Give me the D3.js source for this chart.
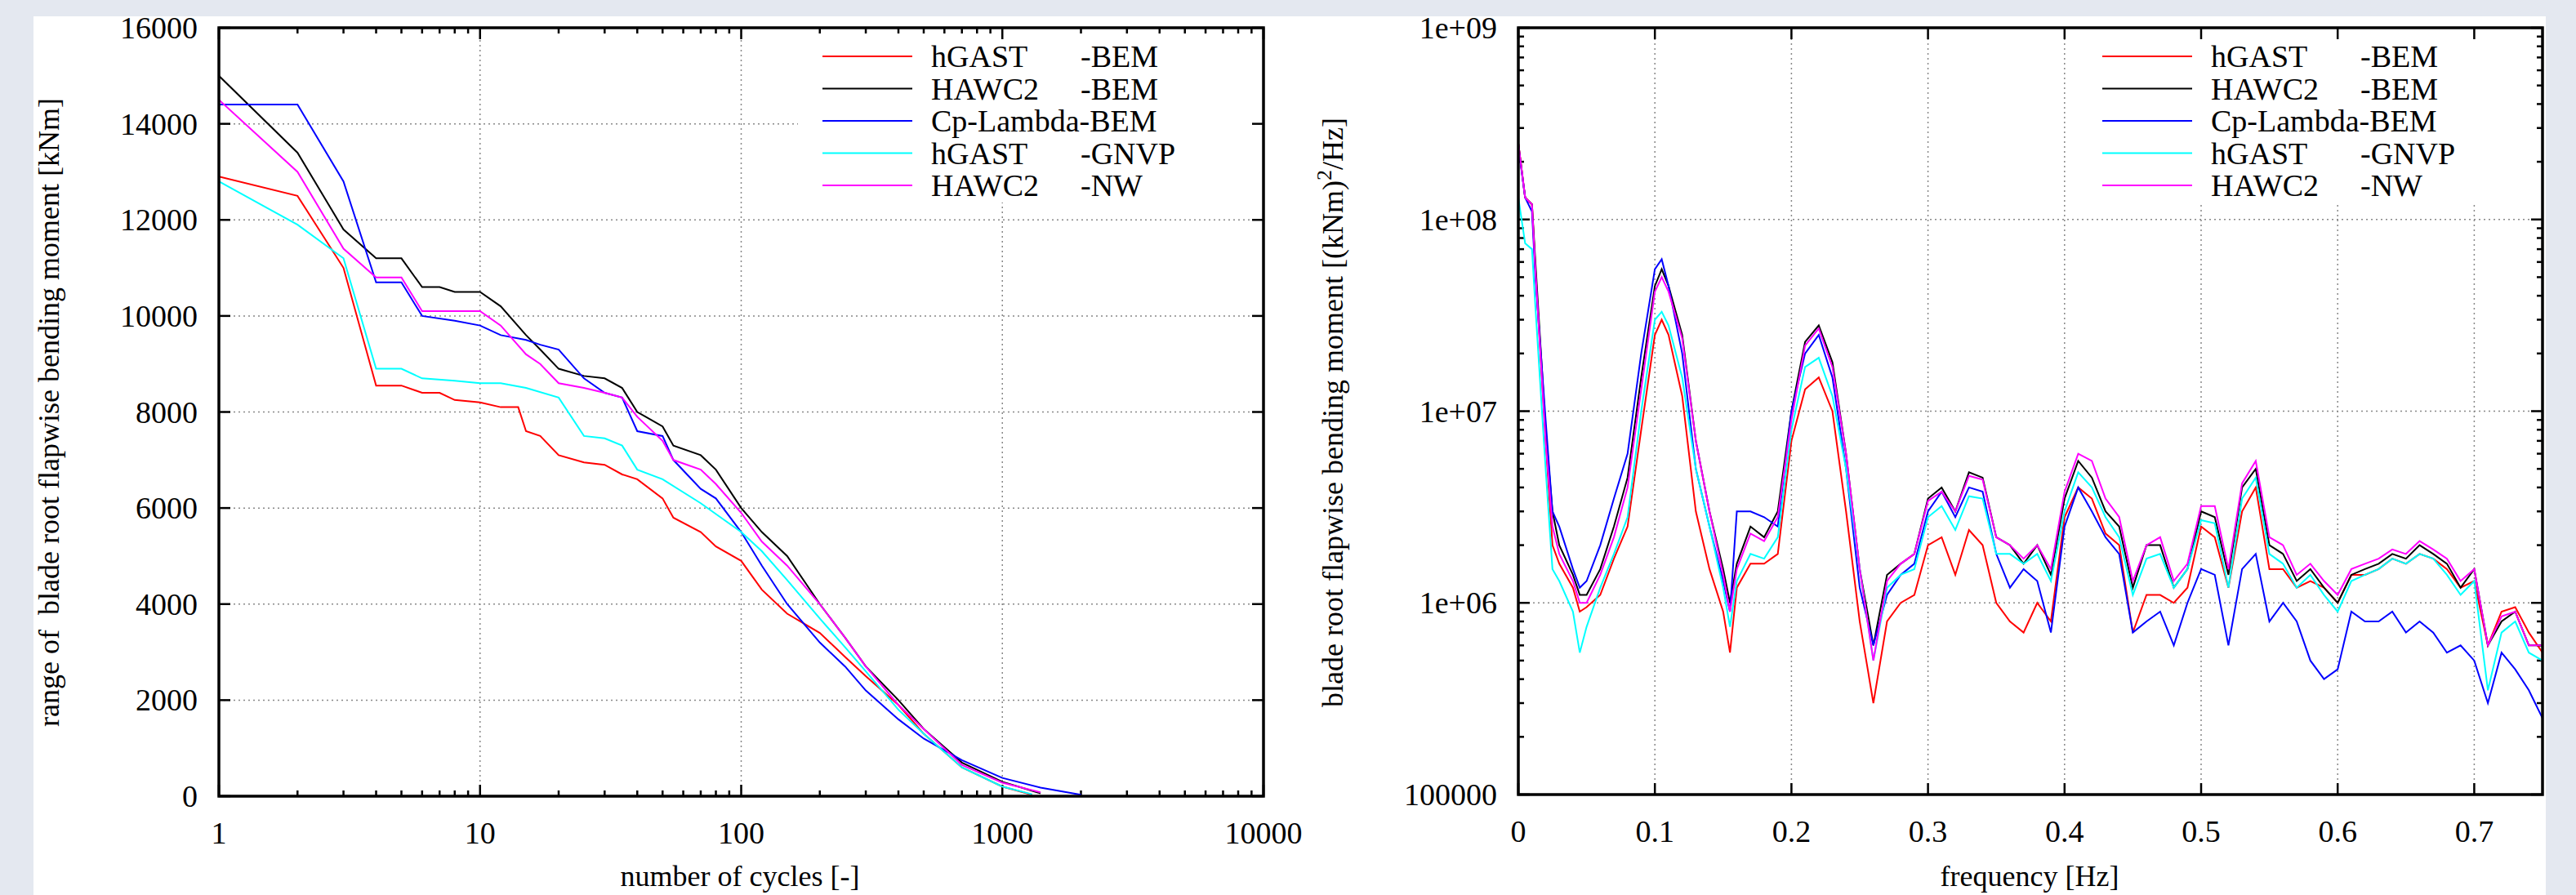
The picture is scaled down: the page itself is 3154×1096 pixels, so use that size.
<!DOCTYPE html>
<html><head><meta charset="utf-8">
<script src="https://cdn.jsdelivr.net/npm/d3@7"></script>
<style>body{margin:0;background:#e4e8f0;}svg{display:block;}text{font-family:"Liberation Serif","DejaVu Serif",serif;}</style>
</head><body><div id="chart"></div>
<script>
const W = 3154, H = 1096;
const seriesNames = ["hGAST", "HAWC2", "Cp-Lambda-BEM", "hGAST", "HAWC2"];
const seriesSuffix = ["-BEM", "-BEM", "", "-GNVP", "-NW"];
const colors = ["#ff0000", "#000000", "#0000ff", "#00ffff", "#ff00ff"];

// Left: cycle counts vs range [kNm]
const cyclesRed = [[1,12900],[2,12500],[3,11000],[4,8550],[5,8550],[6,8400],[7,8400],[8,8250],[10,8200],[12,8100],[14,8100],[15,7600],[17,7500],[20,7100],[25,6950],[30,6900],[35,6700],[40,6600],[50,6200],[55,5800],[70,5500],[80,5200],[100,4900],[120,4300],[150,3800],[200,3400],[250,2900],[300,2500],[400,1900],[500,1300],[700,600],[1000,200],[1300,30]];
const cyclesBlack = [[1,15000],[2,13400],[3,11800],[4,11200],[5,11200],[6,10600],[7,10600],[8,10500],[10,10500],[12,10200],[15,9600],[17,9300],[20,8900],[25,8750],[30,8700],[35,8500],[40,8000],[50,7700],[55,7300],[70,7100],[80,6800],[100,6000],[120,5500],[150,5000],[200,4000],[250,3300],[300,2700],[400,2000],[500,1400],[700,700],[1000,300],[1400,60]];
const cyclesBlue = [[1,14400],[2,14400],[3,12800],[4,10700],[5,10700],[6,10000],[8,9900],[10,9800],[12,9600],[15,9500],[17,9400],[20,9300],[25,8700],[30,8400],[35,8300],[40,7600],[50,7500],[55,7000],[70,6400],[80,6200],[100,5500],[120,4800],[150,4000],[200,3200],[250,2700],[300,2200],[400,1600],[500,1200],[700,750],[1000,380],[1400,180],[2000,30]];
const cyclesCyan = [[1,12800],[2,11900],[3,11200],[4,8900],[5,8900],[6,8700],[8,8650],[10,8600],[12,8600],[15,8500],[20,8300],[25,7500],[30,7450],[35,7300],[40,6800],[50,6600],[70,6100],[100,5500],[120,5100],[150,4500],[200,3700],[250,3100],[300,2600],[400,1800],[500,1300],[700,600],[1000,200],[1300,40]];
const cyclesMagenta = [[1,14500],[2,13000],[3,11400],[4,10800],[5,10800],[6,10100],[10,10100],[12,9800],[15,9200],[17,9000],[20,8600],[25,8500],[30,8400],[35,8300],[40,7900],[50,7400],[55,7000],[70,6800],[80,6500],[100,5900],[120,5300],[150,4800],[200,4000],[250,3300],[300,2700],[400,1900],[500,1400],[700,650],[1000,280],[1400,80]];
const cycleSeries = [cyclesRed, cyclesBlack, cyclesBlue, cyclesCyan, cyclesMagenta];

// Right: PSD, values in units of 1e6 (kNm)^2/Hz
const freq = [0,0.005,0.01,0.0125,0.02,0.025,0.03,0.04,0.045,0.05,0.06,0.07,0.08,0.09,0.1,0.105,0.11,0.12,0.13,0.14,0.15,0.155,0.16,0.17,0.18,0.19,0.2,0.21,0.22,0.23,0.24,0.25,0.26,0.27,0.28,0.29,0.3,0.31,0.32,0.33,0.34,0.35,0.36,0.37,0.38,0.39,0.4,0.41,0.42,0.43,0.44,0.45,0.46,0.47,0.48,0.49,0.5,0.51,0.52,0.53,0.54,0.55,0.56,0.57,0.58,0.59,0.6,0.61,0.62,0.63,0.64,0.65,0.66,0.67,0.68,0.69,0.7,0.71,0.72,0.73,0.74,0.75];
const psdRed = [250,130,120,55,7,2,1.6,1.2,0.9,0.95,1.1,1.7,2.5,8,25,30,25,12,3,1.5,0.9,0.55,1.2,1.6,1.6,1.8,7,13,15,10,3,0.8,0.3,0.8,1,1.1,2,2.2,1.4,2.4,2,1,0.8,0.7,1,0.8,2.8,4,3.5,2.3,2,0.7,1.1,1.1,1,1.2,2.5,2.2,1.2,3,4,1.5,1.5,1.2,1.3,1.2,1,1.4,1.4,1.5,1.7,1.6,1.8,1.7,1.5,1.2,1.3,0.6,0.9,0.95,0.7,0.55];
const psdBlack = [250,130,120,60,8,3,2,1.4,1.1,1.1,1.5,2.5,4.5,15,45,55,45,25,7,3,1.5,1.0,1.6,2.5,2.2,3,10,23,28,18,6,1.5,0.6,1.4,1.6,1.8,3.5,4,3,4.8,4.5,2.2,2,1.6,2,1.4,3.5,5.5,4.5,3,2.5,1.2,2,2,1.2,1.5,3,2.8,1.4,4,5,2,1.8,1.3,1.5,1.2,1,1.4,1.5,1.6,1.8,1.7,2,1.8,1.6,1.2,1.5,0.6,0.8,0.9,0.6,0.6];
const psdBlue = [240,130,110,50,9,3,2.5,1.5,1.2,1.3,2,3.5,6,20,55,62,45,20,5,2.5,1.3,0.9,3,3,2.8,2.5,10,20,25,15,5,1.2,0.6,1.1,1.4,1.6,3,3.8,2.8,4,3.8,1.8,1.2,1.5,1.3,0.7,2.5,4,3,2.2,1.8,0.7,0.8,0.9,0.6,1.0,1.5,1.4,0.6,1.5,1.8,0.8,1.0,0.8,0.5,0.4,0.45,0.9,0.8,0.8,0.9,0.7,0.8,0.7,0.55,0.6,0.5,0.3,0.55,0.45,0.35,0.25];
const psdCyan = [130,75,70,35,5,1.5,1.3,0.9,0.55,0.75,1.2,1.8,2.8,10,30,33,28,15,5,2.5,1.2,0.75,1.3,1.8,1.7,2.2,8,17,19,12,5,1.5,0.5,1.2,1.4,1.5,2.8,3.2,2.4,3.6,3.5,1.8,1.8,1.6,1.8,1.3,3,4.8,4,2.8,2.2,1.1,1.7,1.8,1.2,1.5,2.7,2.6,1.2,3.5,4.5,1.8,1.6,1.2,1.4,1.1,0.9,1.3,1.4,1.5,1.7,1.6,1.8,1.7,1.4,1.1,1.3,0.35,0.7,0.8,0.55,0.5];
const psdMagenta = [250,130,120,55,7,2.5,1.8,1.3,1.0,1.0,1.4,2.2,4,13,42,50,42,24,7,3,1.4,0.9,1.5,2.3,2.1,2.8,9,22,27,17,6,1.5,0.5,1.3,1.6,1.8,3.4,3.8,3,4.6,4.4,2.2,2,1.7,2,1.5,3.8,6,5.5,3.5,2.8,1.3,2,2.2,1.3,1.6,3.2,3.2,1.5,4.2,5.5,2.2,2,1.4,1.6,1.3,1.1,1.5,1.6,1.7,1.9,1.8,2.1,1.9,1.7,1.3,1.5,0.6,0.85,0.9,0.6,0.6];
const psdSeries = [psdRed, psdBlack, psdBlue, psdCyan, psdMagenta];

const leftYTicks = [0,2000,4000,6000,8000,10000,12000,14000,16000];
const leftXTicks = [1,10,100,1000,10000];
const rightXTicks = [0,0.1,0.2,0.3,0.4,0.5,0.6,0.7];
const rightYTicks = [1e5,1e6,1e7,1e8,1e9];
const rightYLabels = ["100000","1e+06","1e+07","1e+08","1e+09"];

const svg = d3.select("#chart").append("svg").attr("width", W).attr("height", H);
svg.append("rect").attr("width", W).attr("height", H).attr("fill", "#e4e8f0");
svg.append("rect").attr("x", 41).attr("y", 20).attr("width", 3076).attr("height", H - 20).attr("fill", "#fff");

const fs = 38;

function panel(o) {
  const g = svg.append("g");
  const x = o.x, y = o.y;
  const [x0, x1] = x.range(), [y0, y1] = y.range();
  // grid
  o.xGrid.forEach(v => g.append("line").attr("x1", x(v)).attr("x2", x(v)).attr("y1", y0).attr("y2", y1)
    .attr("stroke", "#888").attr("stroke-width", 1.5).attr("stroke-dasharray", "2,4"));
  o.yGrid.forEach(v => g.append("line").attr("x1", x0).attr("x2", x1).attr("y1", y(v)).attr("y2", y(v))
    .attr("stroke", "#888").attr("stroke-width", 1.5).attr("stroke-dasharray", "2,4"));
  // legend background
  g.append("rect").attr("x", o.legX - 30).attr("y", y1 + 4).attr("width", x1 - o.legX + 24).attr("height", 210).attr("fill", "#fff");
  // ticks
  const tk = (v, len, axis) => {
    if (axis === "x") {
      g.append("line").attr("x1", x(v)).attr("x2", x(v)).attr("y1", y0).attr("y2", y0 - len).attr("stroke", "#000").attr("stroke-width", 2.5);
      g.append("line").attr("x1", x(v)).attr("x2", x(v)).attr("y1", y1).attr("y2", y1 + len).attr("stroke", "#000").attr("stroke-width", 2.5);
    } else {
      g.append("line").attr("y1", y(v)).attr("y2", y(v)).attr("x1", x0).attr("x2", x0 + len).attr("stroke", "#000").attr("stroke-width", 2.5);
      g.append("line").attr("y1", y(v)).attr("y2", y(v)).attr("x1", x1).attr("x2", x1 - len).attr("stroke", "#000").attr("stroke-width", 2.5);
    }
  };
  o.xMajor.forEach(v => tk(v, 14, "x"));
  (o.xMinor || []).forEach(v => tk(v, 7, "x"));
  o.yMajor.forEach(v => tk(v, 14, "y"));
  (o.yMinor || []).forEach(v => tk(v, 7, "y"));
  // lines
  const clipId = "clip" + o.id;
  svg.append("clipPath").attr("id", clipId).append("rect").attr("x", x0).attr("y", y1).attr("width", x1 - x0).attr("height", y0 - y1);
  const line = d3.line().x(d => x(d[0])).y(d => y(d[1]));
  o.data.forEach((d, i) => g.append("path").attr("d", line(d)).attr("fill", "none")
    .attr("stroke", colors[i]).attr("stroke-width", 2).attr("clip-path", `url(#${clipId})`));
  // frame
  g.append("rect").attr("x", x0).attr("y", y1).attr("width", x1 - x0).attr("height", y0 - y1)
    .attr("fill", "none").attr("stroke", "#000").attr("stroke-width", 3.5);
  // tick labels
  o.xMajor.forEach(v => g.append("text").attr("x", x(v)).attr("y", y0 + 58).attr("text-anchor", "middle")
    .attr("font-size", fs).text(o.xFmt(v)));
  o.yMajor.forEach((v, i) => g.append("text").attr("x", x0 - 26).attr("y", y(v) + 13).attr("text-anchor", "end")
    .attr("font-size", fs).text(o.yFmt(v, i)));
  // legend
  seriesNames.forEach((n, i) => {
    const ly = y1 + 35 + i * 39.5;
    g.append("line").attr("x1", o.legX).attr("x2", o.legX + 110).attr("y1", ly).attr("y2", ly).attr("stroke", colors[i]).attr("stroke-width", 2);
    g.append("text").attr("x", o.legX + 133).attr("y", ly + 13).attr("font-size", fs).text(n);
    if (seriesSuffix[i]) g.append("text").attr("x", o.legX + 316).attr("y", ly + 13).attr("font-size", fs).text(seriesSuffix[i]);
  });
  return g;
}

// Left panel
const xL = d3.scaleLog().domain([1, 10000]).range([268, 1547]);
const yL = d3.scaleLinear().domain([0, 16000]).range([975, 34]);
const logMinor = [];
[1,10,100,1000].forEach(d => { for (let k = 2; k <= 9; k++) logMinor.push(d * k); });
panel({
  id: "L", x: xL, y: yL, xMajor: leftXTicks, xMinor: logMinor, yMajor: leftYTicks,
  xGrid: [10,100,1000], yGrid: [2000,4000,6000,8000,10000,12000,14000],
  data: cycleSeries, legX: 1007, xFmt: v => String(v), yFmt: v => String(v)
});
svg.append("text").attr("x", 906).attr("y", 1085).attr("text-anchor", "middle").attr("font-size", 36).text("number of cycles [-]");
svg.append("text").attr("transform", "translate(72,505) rotate(-90)").attr("text-anchor", "middle").attr("font-size", 36)
  .style("white-space", "pre").text("range of  blade root flapwise bending moment [kNm]");

// Right panel
const xR = d3.scaleLinear().domain([0, 0.75]).range([1859, 3113]);
const yR = d3.scaleLog().domain([1e5, 1e9]).range([973, 34]);
const yMinorR = [];
[1e5,1e6,1e7,1e8].forEach(d => { for (let k = 2; k <= 9; k++) yMinorR.push(d * k); });
panel({
  id: "R", x: xR, y: yR, xMajor: rightXTicks, yMajor: rightYTicks, yMinor: yMinorR,
  xGrid: [0.1,0.2,0.3,0.4,0.5,0.6,0.7], yGrid: [1e6,1e7,1e8],
  data: psdSeries.map(s => freq.map((f, i) => [f, s[i] * 1e6]).filter(d => d[1] !== undefined && !isNaN(d[1]))),
  legX: 2574, xFmt: v => String(v), yFmt: (v, i) => rightYLabels[i]
});
svg.append("text").attr("x", 2485).attr("y", 1085).attr("text-anchor", "middle").attr("font-size", 36).text("frequency [Hz]");
const yt = svg.append("text").attr("transform", "translate(1644,505) rotate(-90)").attr("text-anchor", "middle").attr("font-size", 36);
yt.append("tspan").text("blade root flapwise bending moment [(kNm)");
yt.append("tspan").attr("dy", -14).attr("font-size", 26).text("2");
yt.append("tspan").attr("dy", 14).text("/Hz]");
</script></body></html>
